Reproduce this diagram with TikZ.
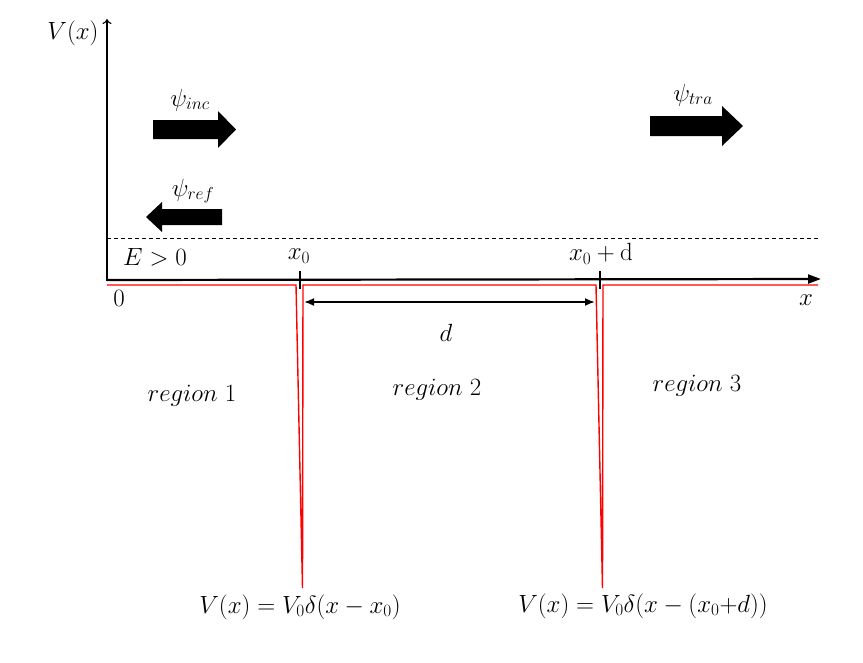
\documentclass[tikz,border=0pt]{standalone}
\usetikzlibrary{arrows.meta}
\begin{document}
\begin{tikzpicture}[x=1pt,y=-1pt,
  lab/.style={font=\fontsize{24}{28}\selectfont, inner sep=0pt},
  pot/.style={red, line width=1.4pt, line join=miter},
  tickmark/.style={line width=2pt},
  blockarrow/.style={fill=black}]
\useasboundingbox[fill=white] (0,0) rectangle (863,662);
% axes
\coordinate (O) at (107,280);
\coordinate (ytop) at (107,19);
\coordinate (xend) at (821,279);
\coordinate (ybot) at (107,281);
\draw[line width=2.2pt, -{Triangle[length=13pt,width=9pt]}] (O) -- (xend);
\draw[line width=1.1pt, -{To[length=5pt,width=9pt]}] (ybot) -- (ytop);
% energy level
\coordinate (e1) at (107,238);
\coordinate (e2) at (818,238);
\draw[line width=0.9pt, dash pattern=on 4pt off 3pt] (e1) -- (e2);
% potential
\coordinate (p0) at (107,285);
\coordinate (s1l) at (296,285);
\coordinate (s1b) at (302.5,588);
\coordinate (s1r) at (303,285);
\coordinate (s2l) at (596,285);
\coordinate (s2b) at (602.5,588);
\coordinate (s2r) at (603,285);
\coordinate (p1) at (818,285);
\draw[pot] (p0) -- (s1l) -- (s1b) -- (s1r) -- (s2l) -- (s2b) -- (s2r) -- (p1);
% ticks
\coordinate (t1a) at (300,271); \coordinate (t1b) at (300,289);
\coordinate (t2a) at (600,271); \coordinate (t2b) at (600,289);
\draw[tickmark] (t1a) -- (t1b);
\draw[tickmark] (t2a) -- (t2b);
% d arrow
\coordinate (da) at (304,302);
\coordinate (db) at (595,302);
\draw[line width=1.8pt, {Latex[length=10pt,width=8pt]}-{Latex[length=10pt,width=8pt]}] (da) -- (db);
% block arrows
\fill[blockarrow] (153,120) -- (218,120) -- (218,111) -- (236,129.5) -- (218,148) -- (218,139) -- (153,139) -- cycle;
\fill[blockarrow] (650,116) -- (722,116) -- (722,106) -- (743,126) -- (722,146) -- (722,136) -- (650,136) -- cycle;
\fill[blockarrow] (222,209) -- (162,209) -- (162,202) -- (146,217) -- (162,232) -- (162,225) -- (222,225) -- cycle;
% labels
\node[lab] (lV) at (73,33) {$V(x)$};
\node[lab] (linc) at (190,100) {$\psi_{inc}$};
\node[lab] (lref) at (193,191) {$\psi_{ref}$};
\node[lab] (ltra) at (693,95) {$\psi_{tra}$};
\node[lab] (lE) at (155,257) {$E>0$};
\node[lab] (lx0) at (299,256) {$x_0$};
\node[lab] (lx0d) at (601,254) {$x_0+\mathrm{d}$};
\node[lab] (lzero) at (119,298) {$0$};
\node[lab] (lx) at (806,300) {$x$};
\node[lab] (ld) at (446,333) {$d$};
\node[lab] (lr1) at (192,396) {$region\ 1$};
\node[lab] (lr2) at (437,390) {$region\ 2$};
\node[lab] (lr3) at (697,386) {$region\ 3$};
\node[lab] (lb1) at (300,607) {$V(x)=V_0\delta(x-x_0)$};
\node[lab] (lb2) at (643,606) {$V(x)=V_0\delta(x-(x_0{+}d))$};
\end{tikzpicture}
\end{document}
